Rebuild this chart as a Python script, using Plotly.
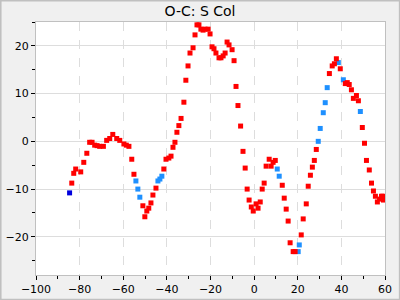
import plotly.graph_objects as go

title_text = "O-C: S Col"

red_x = [-83.6, -82.7, -81.8, -79.5, -78.1, -76.7, -75.4, -74.3, -73.1, -72.0, -70.8, -69.1,
         -67.6, -66.2, -64.8, -63.0, -61.6, -59.7, -58.6, -57.4, -56.1, -55.1,
         -51.0, -50.1, -49.2, -48.3, -47.3, -46.4, -45.0,
         -41.4, -40.4, -39.1, -38.1, -37.2, -36.3, -35.4, -34.5, -33.5,
         -32.2, -31.3, -30.3, -29.4, -28.0, -27.1, -26.2, -25.3, -24.4, -23.4, -22.5, -21.1,
         -20.2, -19.3, -18.4, -17.5, -16.1, -15.2, -14.2, -13.3, -12.4, -11.5, -10.1, -9.2,
         -8.3, -7.4, -6.2, -5.1, -4.1, -3.2, -2.3, -1.3, -0.4, 0.9, 1.8, 2.8, 3.7, 4.6, 5.5,
         6.9, 7.8, 8.7, 9.7, 12.9, 13.8, 14.7, 15.6, 16.5, 17.9, 18.8,
         21.6, 22.5, 23.9, 24.8, 25.8, 26.7, 27.6, 28.5,
         34.5, 35.8, 36.8, 37.7, 39.5, 41.8, 42.7, 43.6, 44.6, 45.5, 46.9, 47.8,
         49.6, 50.6, 51.5, 52.8, 53.8, 54.7, 55.6, 56.5, 57.5, 58.4, 59.3, 59.0]
red_y = [-8.75, -6.7, -5.8, -6.4, -4.4, -2.5, -0.2, -0.2, -0.8, -0.9, -1.05, -1.05,
         0.2, 0.6, 1.45, 0.6, 0.2, -0.55, -0.8, -1.05, -3.75, -6.9,
         -13.5, -15.8, -14.6, -14.0, -12.9, -11.25, -9.8,
         -5.8, -3.75, -3.5, -3.1, -1.25, -0.2, 1.9, 3.3, 4.8,
         8.2, 12.8, 15.8, 18.5, 19.6, 22.3, 24.4, 24.4, 23.5, 23.3, 23.5, 23.5,
         22.5, 19.8, 19.4, 18.5, 17.5, 17.5, 17.9, 18.5, 20.8, 20.2, 19.2, 16.9,
         11.5, 7.5, 3.2, -2.1, -5.6, -10.0, -12.3, -13.75, -14.6, -13.1, -14.0, -12.7, -10.0, -8.75, -5.2,
         -3.75, -5.2, -4.4, -4.0, -9.2, -11.9, -14.2, -16.7, -21.25, -23.1, -23.1,
         -19.6, -16.25, -13.1, -9.4, -7.1, -5.4, -4.0, -1.7,
         14.2, 15.8, 16.25, 17.3, 15.2, 12.1, 12.3, 11.9, 10.8, 9.0, 9.6, 8.5,
         2.9, -0.4, -4.0, -6.0, -8.75, -10.4, -11.5, -12.7, -12.1, -11.5, -12.3, -11.5]

blue_x = [-54.2, -53.3, -52.4, -44.1, -43.2, -42.3, 10.6, 11.5, 20.2, 20.7,
          29.4, 30.3, 31.7, 32.6, 33.5, 38.6, 40.9, 48.7]
blue_y = [-8.3, -10.0, -11.7, -8.3, -7.9, -7.3, -5.8, -7.3, -23.1, -21.7,
          0.0, 2.7, 6.0, 8.1, 11.25, 16.5, 12.9, 6.25]

dark_x = [-84.6]
dark_y = [-10.8]

x_range = [-100, 60]
y_range = [-28, 25]

fig = go.Figure()
fig.add_trace(go.Scatter(x=blue_x, y=blue_y, mode="markers",
                         marker=dict(symbol="square", size=5, color="#1e90ff"), showlegend=False))
fig.add_trace(go.Scatter(x=red_x, y=red_y, mode="markers",
                         marker=dict(symbol="square", size=5, color="#ff0000"), showlegend=False))
fig.add_trace(go.Scatter(x=dark_x, y=dark_y, mode="markers",
                         marker=dict(symbol="square", size=5, color="#0000dd"), showlegend=False))

axis_common = dict(showline=True, linecolor="#c0c0c0", linewidth=1, mirror=True,
                   ticks="outside", ticklen=4, tickcolor="#000000", automargin=False,
                   tickfont=dict(family="DejaVu Sans", size=11, color="#000000"),
                   zeroline=False, gridcolor="#dddddd", gridwidth=1)

fig.update_layout(
    width=400, height=300,
    margin=dict(l=36, r=15, t=22, b=25),
    paper_bgcolor="#f0f0f0", plot_bgcolor="#ffffff",
    title=dict(text=title_text, x=0.5, xanchor="center", y=0.962, yanchor="middle",
               font=dict(family="DejaVu Sans", size=14, color="#000000")),
    xaxis=dict(range=x_range, dtick=20, tick0=0, griddash="dash",
               minor=dict(dtick=10, ticks="outside", ticklen=3, tickcolor="#000000", showgrid=False),
               **axis_common),
    yaxis=dict(range=y_range, dtick=10, tick0=0,
               minor=dict(dtick=5, ticks="outside", ticklen=3, tickcolor="#000000", showgrid=False),
               **axis_common),
    shapes=[dict(type="rect", xref="paper", yref="paper",
                 x0=-0.1015, x1=1.0425, y0=-0.0975, y1=1.0845,
                 line=dict(color="#c0c0c0", width=2), fillcolor="rgba(0,0,0,0)", layer="below")],
)

fig.write_html("out.html")
